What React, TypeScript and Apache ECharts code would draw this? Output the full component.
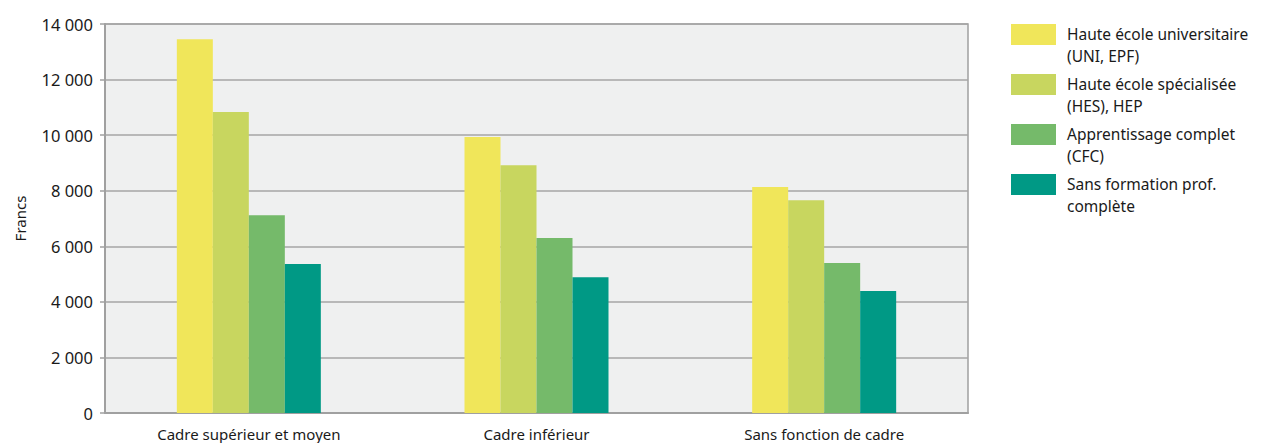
import React, { useEffect, useRef } from "react";
import * as echarts from "echarts";

const categories = ["Cadre supérieur et moyen", "Cadre inférieur", "Sans fonction de cadre"];
const seriesNames = [
  "Haute école universitaire\n(UNI, EPF)",
  "Haute école spécialisée\n(HES), HEP",
  "Apprentissage complet\n(CFC)",
  "Sans formation prof.\ncomplète",
];
const seriesColors = ["#f0e65a", "#c8d65f", "#75ba6a", "#009985"];
const uniValues = [13450, 9930, 8130];
const hesValues = [10830, 8920, 7660];
const cfcValues = [7120, 6300, 5400];
const sansValues = [5360, 4890, 4390];
const allValues = [uniValues, hesValues, cfcValues, sansValues];

const FONT = "'Noto Sans', 'DejaVu Sans', sans-serif";
const TEXT = "#1a1a1a";

export default function App() {
  const ref = useRef<HTMLDivElement>(null);
  useEffect(() => {
    document.body.style.margin = "0";
    if (!ref.current) return;
    const chart = echarts.init(ref.current, undefined, { renderer: "svg" });
    const legendGraphics: any[] = [];
    seriesNames.forEach((name, i) => {
      const y = 24 + i * 50;
      legendGraphics.push({
        type: "rect",
        shape: { x: 1011, y, width: 45, height: 21 },
        style: { fill: seriesColors[i] },
      });
      legendGraphics.push({
        type: "text",
        x: 1067,
        y: y - 1,
        style: {
          text: name,
          fill: TEXT,
          font: `15.5px ${FONT}`,
          lineHeight: 22,
          verticalAlign: "top",
        },
      });
    });
    chart.setOption({
      animation: false,
      backgroundColor: "#ffffff",
      grid: {
        left: 105,
        top: 24,
        width: 863,
        height: 389,
        show: true,
        backgroundColor: "#eff0f0",
        borderColor: "#a0a0a0",
        borderWidth: 1.5,
      },
      xAxis: {
        type: "category",
        data: categories,
        axisLine: { show: true, lineStyle: { color: "#a0a0a0", width: 2 } },
        axisTick: { show: false },
        axisLabel: { color: TEXT, fontSize: 15, fontFamily: FONT, margin: 13 },
      },
      yAxis: {
        type: "value",
        min: 0,
        max: 14000,
        interval: 2000,
        name: "Francs",
        nameLocation: "middle",
        nameGap: 78,
        nameRotate: 90,
        nameTextStyle: { color: TEXT, fontSize: 15, fontFamily: FONT },
        axisLine: { show: true, lineStyle: { color: "#a0a0a0", width: 2 } },
        axisTick: { show: true, length: 5, lineStyle: { color: "#a0a0a0", width: 1.5 } },
        splitLine: { show: true, lineStyle: { color: "#a6a6a6", width: 1.5 } },
        axisLabel: {
          color: TEXT,
          fontSize: 16.5,
          fontFamily: FONT,
          margin: 12,
          formatter: (v: number) => String(v).replace(/\B(?=(\d{3})+(?!\d))/g, " "),
        },
      },
      series: allValues.map((vals, i) => ({
        type: "bar",
        name: seriesNames[i],
        data: vals,
        barWidth: 36,
        barGap: "0%",
        itemStyle: { color: seriesColors[i] },
      })),
      graphic: legendGraphics,
    });
    return () => chart.dispose();
  }, []);
  return <div ref={ref} style={{ width: 1264, height: 443 }} />;
}
